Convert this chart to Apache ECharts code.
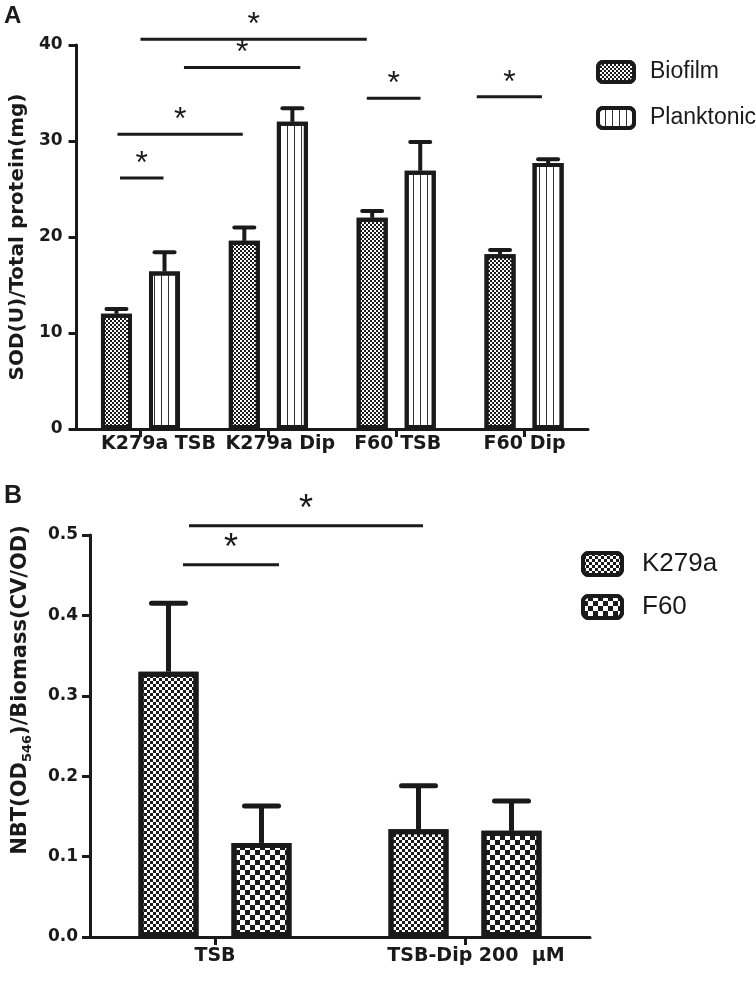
<!DOCTYPE html>
<html><head><meta charset="utf-8">
<script src="https://cdn.jsdelivr.net/npm/echarts@6/dist/echarts.min.js"></script>
<style>html,body{margin:0;padding:0;background:#fff}#c{width:756px;height:981px}</style>
</head><body><div id="c"></div>
<script>
// ---------- Panel A data ----------
const catsA = ['K279a TSB', 'K279a Dip', 'F60 TSB', 'F60 Dip'];
const biofilmA = [12.0, 19.6, 22.0, 18.2];
const biofilmErrA = [0.5, 1.4, 0.7, 0.45];
const planktonicA = [16.4, 32.0, 26.9, 27.7];
const planktonicErrA = [2.0, 1.4, 3.0, 0.4];
const yTicksA = [0, 10, 20, 30, 40];
// significance brackets: [from, to] in category units (category i centre = i), y value
const sigA = [[0.0, 1.77, 40.6], [0.34, 1.25, 37.65], [-0.18, 0.80, 30.7], [-0.16, 0.18, 26.15], [1.77, 2.19, 34.45], [2.63, 3.14, 34.6]];

// ---------- Panel B data ----------
const catsB = ['TSB', 'TSB-Dip 200  μM'];
const k279aB = [0.33, 0.134];
const k279aErrB = [0.085, 0.054];
const f60B = [0.117, 0.132];
const f60ErrB = [0.046, 0.037];
const yTicksB = [0, 0.1, 0.2, 0.3, 0.4, 0.5];
const sigB = [[-0.104, 0.832, 0.5115], [-0.128, 0.256, 0.463]];

const INK = '#1a1a1a';
const BOLD = 'DejaVu Sans';
const ARIAL = 'Liberation Sans';

function checker(s) {
  return { symbol: 'rect', symbolSize: 1, symbolKeepAspect: false, color: INK, backgroundColor: null,
    dashArrayX: [[s, s], [0, s, s, 0]], dashArrayY: [s, 0], rotation: 0 };
}
const vlines = { symbol: 'rect', symbolSize: 1, symbolKeepAspect: false, color: '#333', backgroundColor: null,
  dashArrayX: [1, 6], dashArrayY: [4, 0], rotation: 0 };

function barSeries(name, data, xi, yi, bw, gap, border, decal) {
  return { name, type: 'bar', xAxisIndex: xi, yAxisIndex: yi, data, barWidth: bw, barGap: gap, z: 3,
    itemStyle: { color: '#fff', borderColor: INK, borderWidth: border, decal } };
}
function errSeries(vals, errs, xi, yi, idx, bw, gap, lw, capW) {
  return { type: 'custom', xAxisIndex: xi, yAxisIndex: yi, clip: false, silent: true, z: 2,
    data: vals.map((v, i) => [i, v, v + errs[i]]),
    renderItem(params, api) {
      const layout = api.barLayout({ count: 2, barWidth: bw, barGap: gap });
      const off = layout[idx].offsetCenter;
      const p0 = api.coord([api.value(0), api.value(1)]);
      const p1 = api.coord([api.value(0), api.value(2)]);
      const x = p0[0] + off;
      return { type: 'group', children: [
        { type: 'line', shape: { x1: x, y1: p0[1], x2: x, y2: p1[1] }, style: { stroke: INK, lineWidth: lw } },
        { type: 'line', shape: { x1: x - capW / 2, y1: p1[1], x2: x + capW / 2, y2: p1[1] }, style: { stroke: INK, lineWidth: lw, lineCap: 'round' } }
      ] };
    } };
}
function sigSeries(data, xi, yi, fs, up) {
  return { type: 'custom', xAxisIndex: xi, yAxisIndex: yi, clip: false, silent: true, z: 4,
    data,
    renderItem(params, api) {
      const a = api.coord([api.value(0), api.value(2)]);
      const b = api.coord([api.value(1), api.value(2)]);
      return { type: 'group', children: [
        { type: 'line', shape: { x1: a[0], y1: a[1], x2: b[0], y2: b[1] }, style: { stroke: INK, lineWidth: 3 } },
        { type: 'text', x: (a[0] + b[0]) / 2, y: a[1] - up,
          style: { text: '*', fill: INK, font: fs + 'px "Liberation Sans"', textAlign: 'center', textVerticalAlign: 'middle' } }
      ] };
    } };
}
function labelRich(offsets, fs) {
  const r = {};
  offsets.forEach((o, i) => { r['o' + i] = { padding: [0, 0, 0, 2 * o], fontFamily: BOLD, fontWeight: 'bold', fontSize: fs, color: INK }; });
  return r;
}
const axisLineX = { show: true, onZero: false, lineStyle: { color: INK, width: 3 } };
const axisLineY = { show: true, onZero: false, lineStyle: { color: INK, width: 3 } };
const axisTick = { show: true, length: 8, lineStyle: { color: INK, width: 3 } };

const chart = echarts.init(document.getElementById('c'), null, { renderer: 'canvas' });
chart.setOption({
  backgroundColor: '#fff',
  animation: false,
  graphic: [
    { type: 'text', left: 4, top: 4, style: { text: 'A', font: 'bold 24px "Liberation Sans"', fill: INK } },
    { type: 'text', left: 4, top: 484, style: { text: 'B', font: 'bold 25px "Liberation Sans"', fill: INK } }
  ],
  grid: [
    { left: 76, top: 45, width: 512, height: 384 },
    { left: 90, top: 535, width: 500, height: 402 }
  ],
  legend: [
    { data: ['Biofilm', 'Planktonic'], orient: 'vertical', left: 591, top: 55, itemWidth: 36, itemHeight: 20, itemGap: 22,
      itemStyle: { borderWidth: 4, borderColor: INK },
      textStyle: { fontFamily: ARIAL, fontSize: 23, color: INK, padding: [0, 0, 0, 11] } },
    { data: ['K279a', 'F60'], orient: 'vertical', left: 576, top: 546, itemWidth: 39, itemHeight: 22, itemGap: 17,
      itemStyle: { borderWidth: 4, borderColor: INK },
      textStyle: { fontFamily: ARIAL, fontSize: 26, color: INK, padding: [0, 0, 0, 15] } }
  ],
  xAxis: [
    { type: 'category', gridIndex: 0, data: catsA, axisLine: axisLineX, axisTick: Object.assign({ alignWithLabel: true }, axisTick),
      axisLabel: { margin: 6, formatter: (v, i) => '{o' + i + '|' + v + '}', rich: labelRich([18, 12, 1.5, 0.5], 19) } },
    { type: 'category', gridIndex: 1, data: catsB, axisLine: axisLineX, axisTick: Object.assign({ alignWithLabel: true }, axisTick),
      axisLabel: { margin: 10, formatter: (v, i) => '{o' + i + '|' + v + '}', rich: labelRich([0, 11], 19) } },
    { type: 'value', gridIndex: 0, min: -0.5, max: catsA.length - 0.5, show: false },
    { type: 'value', gridIndex: 1, min: -0.5, max: catsB.length - 0.5, show: false }
  ],
  yAxis: [
    { type: 'value', gridIndex: 0, min: yTicksA[0], max: yTicksA[yTicksA.length - 1], interval: yTicksA[1] - yTicksA[0],
      splitLine: { show: false }, axisLine: axisLineY, axisTick,
      axisLabel: { margin: 14, fontFamily: BOLD, fontWeight: 'bold', fontSize: 17, color: INK },
      name: 'SOD(U)/Total protein(mg)', nameLocation: 'middle', nameRotate: 90, nameGap: 48,
      nameTextStyle: { fontFamily: BOLD, fontWeight: 'bold', fontSize: 20, color: INK } },
    { type: 'value', gridIndex: 1, min: yTicksB[0], max: yTicksB[yTicksB.length - 1], interval: 0.1,
      splitLine: { show: false }, axisLine: axisLineY, axisTick,
      axisLabel: { margin: 12, fontFamily: BOLD, fontWeight: 'bold', fontSize: 17, color: INK, formatter: v => v.toFixed(1) },
      name: '{m|NBT(OD}{s|546}{m|)/Biomass(CV/OD)}', nameLocation: 'middle', nameRotate: 90, nameGap: 56,
      nameTextStyle: { fontFamily: BOLD, fontWeight: 'bold', fontSize: 21, color: INK, padding: [0, 0, 0, 92],
        rich: { m: { fontFamily: BOLD, fontWeight: 'bold', fontSize: 21, color: INK, lineHeight: 26 },
                s: { fontFamily: BOLD, fontWeight: 'bold', fontSize: 13, color: INK, lineHeight: 13, verticalAlign: 'bottom' } } } }
  ],
  series: [
    barSeries('Biofilm', biofilmA, 0, 0, 31, '55%', 4, checker(2)),
    barSeries('Planktonic', planktonicA, 0, 0, 31, '55%', 4, vlines),
    errSeries(biofilmA, biofilmErrA, 0, 0, 0, 31, '55%', 4, 20),
    errSeries(planktonicA, planktonicErrA, 0, 0, 1, 31, '55%', 4, 20),
    sigSeries(sigA, 2, 0, 32, 14),
    barSeries('K279a', k279aB, 1, 1, 60, '55%', 5, checker(2.5)),
    barSeries('F60', f60B, 1, 1, 60, '55%', 5, checker(5)),
    errSeries(k279aB, k279aErrB, 1, 1, 0, 60, '55%', 5, 34),
    errSeries(f60B, f60ErrB, 1, 1, 1, 60, '55%', 5, 34),
    sigSeries(sigB, 3, 1, 36, 16)
  ]
});
</script></body></html>
